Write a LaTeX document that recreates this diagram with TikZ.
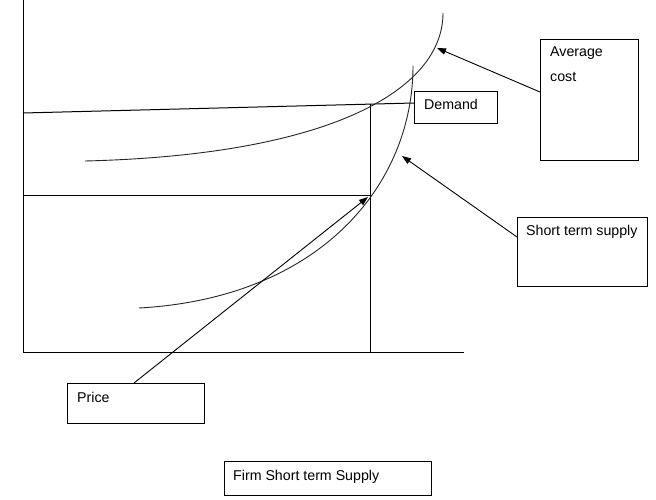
\documentclass[tikz,border=0pt]{standalone}
\usepackage{fontspec}
\setmainfont{Liberation Sans}
\usetikzlibrary{arrows.meta}
\begin{document}
\begin{tikzpicture}[x=1pt,y=-1pt,
  ln/.style={line width=1pt,black},
  crv/.style={line width=0.9pt,black!85},
  box/.style={draw,line width=1pt,rectangle,inner sep=0,anchor=north west},
  lbl/.style={anchor=base west,inner sep=0,font=\fontsize{14.2}{17}\selectfont},
  arr/.style={line width=0.9pt,-{Triangle[length=9pt,width=6.5pt]}}]
\useasboundingbox (0,0) rectangle (656,500);
% axes
\coordinate (otop) at (23,0);
\coordinate (o) at (23,352);
\coordinate (xend) at (464,352);
\draw[ln] (otop) -- (o) -- (xend);
% demand line
\coordinate (dstart) at (23,113);
\coordinate (dend) at (414,103);
\draw[ln] (dstart) -- (dend);
% guide lines
\coordinate (py) at (23,195);
\coordinate (pq) at (370,195);
\coordinate (qtop) at (370,104);
\coordinate (qbot) at (370,352);
\draw[ln] (py) -- (pq);
\draw[ln] (qtop) -- (qbot);
% average cost curve
\coordinate (acs) at (85,161);
\coordinate (ace) at (443,13);
\draw[crv] (acs) .. controls (330,155) and (443,90) .. (ace);
% short term supply curve
\coordinate (sss) at (139,308);
\coordinate (sse) at (413,66);
\draw[crv] (sss) .. controls (320,298) and (413,185) .. (sse);
% boxes
\node[box,minimum width=98pt,minimum height=121pt] (acbox) at (540,39) {};
\node[box,minimum width=83pt,minimum height=32pt] (dbox) at (414,91) {};
\node[box,minimum width=130pt,minimum height=69pt] (sbox) at (517,217) {};
\node[box,minimum width=137pt,minimum height=40pt] (pbox) at (67,383) {};
\node[box,minimum width=207pt,minimum height=34pt] (fbox) at (224,461) {};
% labels
\node[lbl] (tac1) at (550,57) {Average};
\node[lbl] (tac2) at (550,82) {cost};
\node[lbl] (td) at (424,110) {Demand};
\node[lbl] (ts) at (526,235) {Short term supply};
\node[lbl] (tp) at (77,402) {Price};
\node[lbl] (tf) at (233,480) {Firm Short term Supply};
% connectors
\coordinate (acfrom) at (540,92);
\coordinate (acto) at (437,48);
\coordinate (sfrom) at (517,237);
\coordinate (sto) at (402,156);
\coordinate (pfrom) at (134,383);
\coordinate (pto) at (368,197);
\draw[arr] (acfrom) -- (acto);
\draw[arr] (sfrom) -- (sto);
\draw[arr] (pfrom) -- (pto);
\end{tikzpicture}
\end{document}
